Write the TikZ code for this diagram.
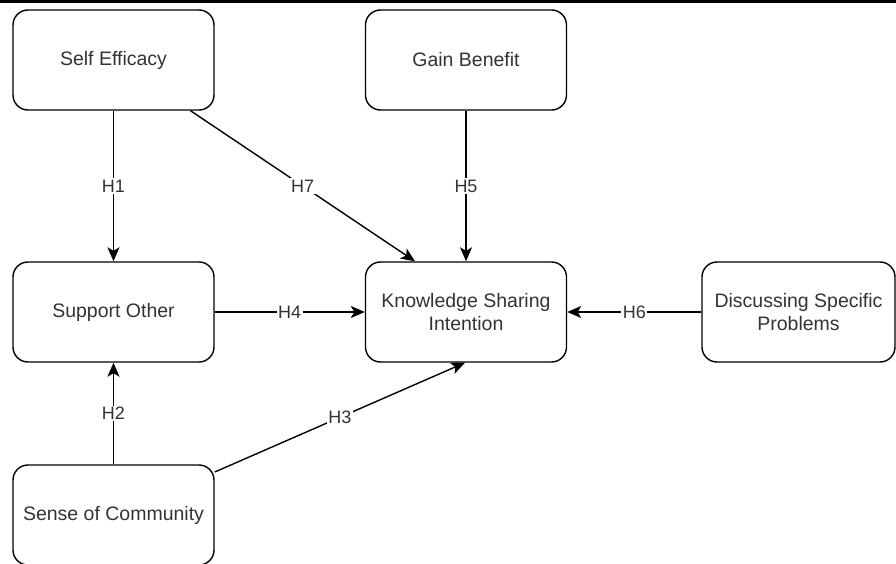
\documentclass[tikz,border=0pt]{standalone}
\usepackage{fontspec}
\setmainfont{Liberation Sans}
\usetikzlibrary{arrows.meta}
\definecolor{txtgray}{HTML}{333333}
\tikzset{
factor/.style={
  draw,
  rounded corners=15pt,
  line width=1.4pt,
  minimum width=201pt,
  minimum height=100pt,
  align=center,
  text=txtgray,
  font=\fontsize{19.5}{23}\selectfont
},
hyp/.style={fill=white,inner sep=1.5pt,text=txtgray,font=\fontsize{18}{20}\selectfont},
link/.style={line width=1.4pt,-{Stealth[length=14pt,width=12pt,inset=3.5pt]}}
}
\begin{document}
\begin{tikzpicture}[x=1pt,y=-1pt]
\clip (0,0) rectangle (896,564);
\draw[line width=2.6pt] (0,1.3) -- (896,1.3);
\node[factor] (se) at (113.5,60) {Self Efficacy};
\node[factor] (gb) at (466,60) {Gain Benefit};
\node[factor] (so) at (113.5,312) {Support Other};
\node[factor] (ksi) at (466,312) {Knowledge Sharing\\Intention};
\node[factor,minimum width=193pt] (dsp) at (798.5,312) {Discussing Specific\\Problems};
\node[factor] (soc) at (113.5,515) {Sense of Community};
% the hypotheses
\foreach \from/\to/\h in {se/so/H1,gb/ksi/H5,so/ksi/H4,dsp/ksi/H6,soc/so/H2}
{
  \draw[link] (\from) -- node[hyp] {\h} (\to);
}
\draw[link] ([xshift=77pt]se.south) -- node[hyp] {H7} ([xshift=-51pt]ksi.north);
\draw[link] (soc.23) -- node[hyp] {H3} ([xshift=-1pt]ksi.south);
\end{tikzpicture}
\end{document}
